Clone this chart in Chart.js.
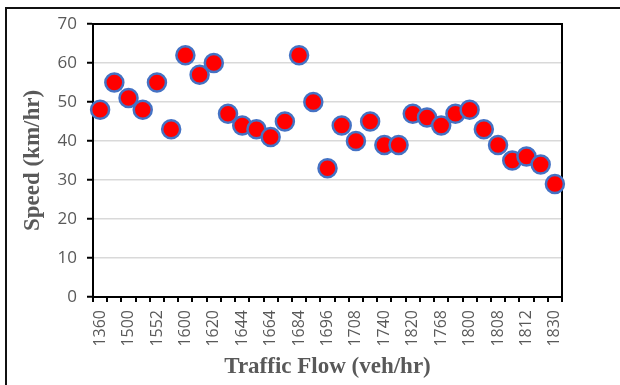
<!DOCTYPE html>
<html>
<head>
<meta charset="utf-8">
<script src="https://cdn.jsdelivr.net/npm/chart.js@4.4.1/dist/chart.umd.min.js"></script>
<style>
  html, body {
    margin: 0;
    padding: 0;
    background: #fff;
    overflow: hidden;
  }

  .wrap {
    position: relative;
    width: 620px;
    height: 385px;
  }

  .frame {
    position: absolute;
    left: 5px;
    top: 7px;
    width: 700px;
    height: 500px;
    border-top: 2px solid #111;
    border-left: 2px solid #111;
  }

  canvas {
    position: absolute;
    left: 0;
    top: 0;
  }
</style>
</head>
<body>
<div class="wrap">
  <div class="frame"></div>
  <canvas id="chart" width="620" height="385"></canvas>
</div>
<script>
// Traffic flow labels that the axis shows (every other category; the ones in between are not labelled)
const flowLabels = [
  "1360", "1500", "1552", "1600", "1620", "1644", "1664", "1684", "1696",
  "1708", "1740", "1820", "1768", "1800", "1808", "1812", "1830",
];

// Speed (km/hr), one per category
const speeds = [
  48, 55, 51, 48, 55, 43, 62, 57, 60, 47, 44, 43, 41, 45, 62, 50, 33,
  44, 40, 45, 39, 39, 47, 46, 44, 47, 48, 43, 39, 35, 36, 34, 29,
];

const yTicks = [0, 10, 20, 30, 40, 50, 60, 70];

const categories = speeds.map((_, i) => (i % 2 === 0 ? flowLabels[i / 2] : ""));

const tickColor = "#595959";
const titleColor = "#595959";

// top and right edges of the plot box, drawn under the markers
const plotFrame = {
  id: "plotFrame",
  beforeDatasetsDraw(chart) {
    const { ctx, chartArea: a } = chart;
    ctx.save();
    ctx.strokeStyle = "#000";
    ctx.lineWidth = 2;
    ctx.beginPath();
    ctx.moveTo(a.left, a.top);
    ctx.lineTo(a.right, a.top);
    ctx.lineTo(a.right, a.bottom);
    ctx.stroke();
    ctx.restore();
  },
};

new Chart(document.getElementById("chart"), {
  type: "line",
  data: {
    labels: categories,
    datasets: [{
      label: "Speed",
      data: speeds,
      showLine: false,
      pointRadius: 9,
      pointHoverRadius: 9,
      pointBorderWidth: 2.5,
      pointBackgroundColor: "#ff0000",
      pointBorderColor: "#4472c4",
      clip: false,
    }],
  },
  options: {
    responsive: false,
    animation: false,
    devicePixelRatio: 1,
    layout: {
      padding: { left: 5, right: 58, top: 24, bottom: 0 },
    },
    plugins: {
      legend: { display: false },
      tooltip: { enabled: false },
    },
    scales: {
      x: {
        offset: true,
        grid: {
          offset: true,
          drawOnChartArea: false,
          drawTicks: true,
          tickLength: 5,
          lineWidth: 2,
          tickColor: "#000",
        },
        border: { color: "#000", width: 2 },
        ticks: {
          autoSkip: false,
          maxRotation: 90,
          minRotation: 90,
          padding: 8,
          color: tickColor,
          font: { family: "'Open Sans', sans-serif", size: 16 },
        },
        title: {
          display: true,
          text: "Traffic Flow (veh/hr)",
          color: titleColor,
          font: { family: "'Liberation Serif', 'Times New Roman', serif", size: 23, weight: "bold" },
          padding: { top: 0, bottom: 4 },
        },
        afterFit(scale) {
          scale.height = 88;
        },
      },
      y: {
        min: 0,
        max: 70,
        afterBuildTicks(scale) {
          scale.ticks = yTicks.map(v => ({ value: v }));
        },
        grid: {
          color: ctx => (ctx.tick && (ctx.tick.value === 0 || ctx.tick.value === 70) ? "rgba(0,0,0,0)" : "#d9d9d9"),
          lineWidth: 1.5,
          drawTicks: true,
          tickLength: 6,
          tickColor: "#000",
          tickWidth: 2,
        },
        border: { color: "#000", width: 2 },
        ticks: {
          padding: 10,
          color: tickColor,
          font: { family: "'Open Sans', sans-serif", size: 17 },
        },
        title: {
          display: true,
          text: "Speed (km/hr)",
          color: titleColor,
          font: { family: "'Liberation Serif', 'Times New Roman', serif", size: 23, weight: "bold" },
          padding: { top: 14, bottom: 0 },
        },
        afterFit(scale) {
          scale.width = 88;
        },
      },
    },
  },
  plugins: [plotFrame],
});
</script>
</body>
</html>
